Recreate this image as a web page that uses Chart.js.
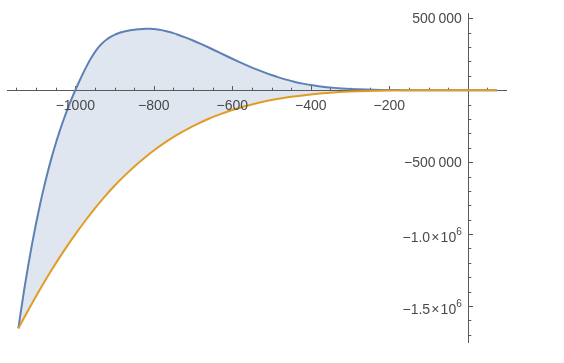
<!DOCTYPE html>
<html>
<head>
<meta charset="utf-8">
<script src="https://cdn.jsdelivr.net/npm/chart.js@4/dist/chart.umd.min.js"></script>
<style>
  html, body { margin: 0; padding: 0; background: #ffffff; }
  #wrap { width: 564px; height: 363px; }
</style>
</head>
<body>
<div id="wrap"><canvas id="c" width="564" height="363"></canvas></div>
<script>
// ---- data (values in plot units) ----
const blueX = [-1145, -1140, -1130, -1120, -1110, -1100, -1090, -1080, -1070, -1060, -1050, -1040, -1030, -1020, -1010, -1000,
  -990, -980, -970, -960, -950, -940, -930, -920, -910, -900, -890, -880, -870, -860, -850, -840, -830, -820, -810,
  -800, -790, -780, -770, -760, -750, -740, -720, -700, -680, -660, -640, -620, -600, -580, -560, -540, -520, -500,
  -480, -460, -440, -420, -400, -380, -360, -340, -320, -300, -280, -260, -240, -220, -200, -180, -160, -140, -120, -100, -50, 0, 74];
const blueY = [-1655000, -1561000, -1383000, -1219000, -1066000, -926000, -796000, -677000, -567000, -465000, -372000, -286000, -207000, -133000, -64000, 0,
  61000, 119000, 173000, 222000, 265000, 301000, 330000, 353000, 371000, 385000, 396000, 405000, 412000, 417000, 421000, 424000, 426000, 427500, 428000,
  426000, 423000, 418000, 412000, 405000, 397000, 388000, 368000, 346000, 322000, 297000, 271000, 245000, 219000, 194000, 170000, 147000, 126000, 106000,
  88000, 72000, 58000, 46000, 36000, 28000, 21500, 16500, 12500, 9500, 7000, 5000, 3500, 2400, 1600, 1000, 600, 350, 200, 100, 0, 0, 0];

const orangeX = [-1145, -1120, -1100, -1080, -1060, -1040, -1020, -1000, -975, -950, -925, -900, -875, -850, -820, -800, -770, -740,
  -700, -660, -630, -600, -570, -530, -490, -450, -400, -350, -300, -250, -200, -150, -100, -50, 0, 74];
const orangeY = [-1655000, -1530000, -1432000, -1338000, -1248000, -1162000, -1080000, -1002000, -909000, -821000, -739000, -664000, -595000, -531000, -462000, -419000, -361000, -309000,
  -249000, -198000, -166000, -137600, -112900, -85300, -63000, -45400, -28900, -17300, -9500, -4700, -2000, -660, -140, -5, 0, 0];

const xMajorTicks = [-1000, -800, -600, -400, -200];
const xMinorStep = 50;
const xTickRange = [-1150, 50];
const yMajorTicks = [500000, -500000, -1000000, -1500000];
const yMinorStep = 100000;
const yTickRange = [-1700000, 500000];

const BLUE = 'rgb(94,129,181)';
const ORANGE = 'rgb(225,156,36)';
const AXIS = '#5a5a5a';
const LABEL = '#4a4a4a';
const FONT = '"Liberation Sans", Arial, Helvetica, sans-serif';

function pts(xs, ys) { return xs.map((x, i) => ({ x: x, y: ys[i] })); }
function fmtX(v) { return (v < 0 ? '\u2212' : '') + Math.abs(v); }

const axesPlugin = {
  id: 'mmaAxes',
  beforeDatasetsDraw(chart) {
    const ctx = chart.ctx, a = chart.chartArea;
    const xs = chart.scales.x, ys = chart.scales.y;
    const x0 = Math.round(xs.getPixelForValue(0)) + 0.5;
    const y0 = Math.round(ys.getPixelForValue(0)) + 0.5;
    ctx.save();
    ctx.strokeStyle = AXIS;
    ctx.lineWidth = 1;
    ctx.beginPath();
    ctx.moveTo(a.left, y0); ctx.lineTo(a.right, y0);
    ctx.moveTo(x0, a.top); ctx.lineTo(x0, a.bottom);
    for (let v = xTickRange[0]; v <= xTickRange[1]; v += xMinorStep) {
      if (v === 0) continue;
      const px = Math.round(xs.getPixelForValue(v)) + 0.5;
      const len = xMajorTicks.includes(v) ? 4.5 : 2.8;
      ctx.moveTo(px, y0); ctx.lineTo(px, y0 - len);
    }
    for (let v = yTickRange[0]; v <= yTickRange[1]; v += yMinorStep) {
      if (v === 0) continue;
      const py = Math.round(ys.getPixelForValue(v)) + 0.5;
      const len = yMajorTicks.includes(v) ? 4.5 : 2.8;
      ctx.moveTo(x0, py); ctx.lineTo(x0 + len, py);
    }
    ctx.stroke();
    ctx.restore();
  },
  afterDatasetsDraw(chart) {
    const ctx = chart.ctx;
    const xs = chart.scales.x, ys = chart.scales.y;
    const x0 = xs.getPixelForValue(0);
    const y0 = ys.getPixelForValue(0);
    ctx.save();
    ctx.fillStyle = LABEL;
    ctx.font = '14px ' + FONT;
    ctx.textAlign = 'center';
    ctx.textBaseline = 'alphabetic';
    xMajorTicks.forEach(v => {
      ctx.fillText(fmtX(v), xs.getPixelForValue(v), y0 + 19.5);
    });
    ctx.textAlign = 'right';
    yMajorTicks.forEach(v => {
      const py = ys.getPixelForValue(v);
      const right = x0 - 6;
      if (Math.abs(v) < 1000000) {
        const s = (v < 0 ? '\u2212' : '') + Math.abs(v).toString().replace(/(\d{3})$/, '\u2009$1');
        ctx.font = '14px ' + FONT;
        ctx.fillText(s, right, py + 5);
      } else {
        const mant = (Math.abs(v) / 1000000).toFixed(1);
        ctx.font = '10px ' + FONT;
        const supW = ctx.measureText('6').width;
        ctx.fillText('6', right, py + 1);
        ctx.font = '14px ' + FONT;
        ctx.fillText('\u2212' + mant + '\u200A\u00D7\u200A10', right - supW, py + 8);
      }
    });
    ctx.restore();
  }
};

new Chart(document.getElementById('c'), {
  type: 'line',
  data: {
    datasets: [
      {
        label: 'orange',
        data: pts(orangeX, orangeY),
        borderColor: ORANGE,
        borderWidth: 2,
        fill: false,
        pointRadius: 0,
        cubicInterpolationMode: 'monotone'
      },
      {
        label: 'blue',
        data: pts(blueX, blueY),
        borderColor: BLUE,
        borderWidth: 2,
        backgroundColor: 'rgba(94,129,181,0.2)',
        fill: 0,
        pointRadius: 0,
        cubicInterpolationMode: 'monotone'
      }
    ]
  },
  options: {
    responsive: false,
    devicePixelRatio: 1,
    animation: false,
    layout: { padding: { left: 7, right: 57, top: 13, bottom: 20 } },
    plugins: {
      legend: { display: false },
      tooltip: { enabled: false },
      filler: { drawTime: 'beforeDatasetsDraw' }
    },
    scales: {
      x: { type: 'linear', min: -1174, max: 100, display: false },
      y: { type: 'linear', min: -1757000, max: 537000, display: false }
    }
  },
  plugins: [axesPlugin]
});
</script>
</body>
</html>
